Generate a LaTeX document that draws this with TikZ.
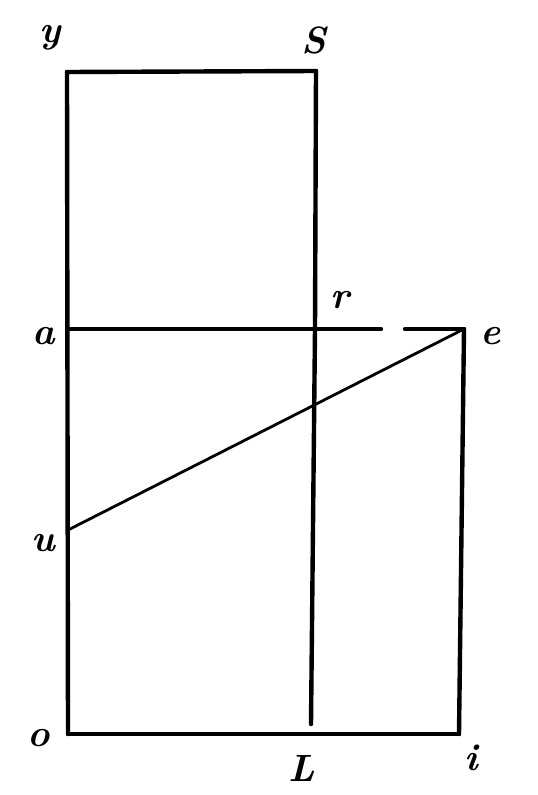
\documentclass[tikz,border=0pt]{standalone}
\begin{document}
\begin{tikzpicture}[x=1pt,y=-1pt,
  edge/.style={line width=4.4pt,line cap=round},
  thin edge/.style={line width=2.8pt,line cap=round},
  lbl/.style={font=\fontsize{38}{38}\selectfont\bfseries\itshape,inner sep=0pt}]
\useasboundingbox (0,0) rectangle (538,795);
% points
\coordinate (Y) at (67,72);
\coordinate (S) at (316,71);
\coordinate (A) at (68,329);
\coordinate (R) at (315,329);
\coordinate (G1) at (381,329);
\coordinate (G2) at (405,329);
\coordinate (E) at (464,329);
\coordinate (U) at (68,530);
\coordinate (O) at (68,734);
\coordinate (T) at (311,734);
\coordinate (Tend) at (311,724);
\coordinate (I) at (459,734);
% frame
\draw[edge] (Y) -- (S);
\draw[edge] (Y) -- (O);
\draw[edge] (S) -- (R) -- (Tend);
\draw[edge] (A) -- (G1);
\draw[edge] (G2) -- (E);
\draw[edge] (E) -- (I);
\draw[edge] (O) -- (I);
\draw[thin edge] (U) -- (E);
% labels
\node[lbl] (ly) at (50,38) {y};
\node[lbl] (lS) at (314,40) {S};
\node[lbl] (la) at (44,336) {a};
\node[lbl] (lr) at (340,300) {r};
\node[lbl] (le) at (491,336) {e};
\node[lbl] (lu) at (43,543) {u};
\node[lbl] (lo) at (39,738) {o};
\node[lbl] (lt) at (302,768) {L};
\node[lbl] (li) at (471,758) {i};
\end{tikzpicture}
\end{document}
